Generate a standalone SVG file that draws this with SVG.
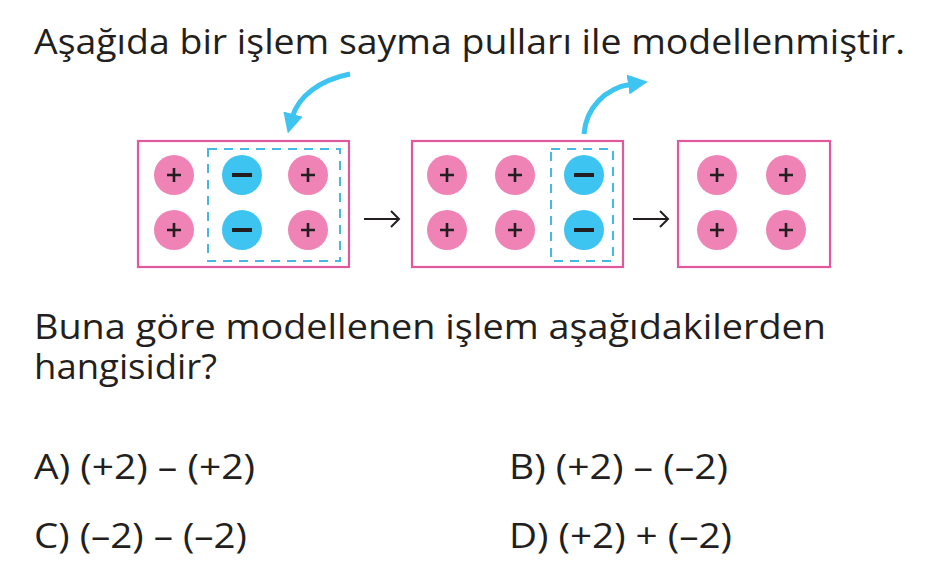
<svg xmlns="http://www.w3.org/2000/svg" width="951" height="575" viewBox="0 0 951 575">
<defs>
<style>
.t{font-family:"Open Sans","Noto Sans",sans-serif;font-size:35px;fill:#231f20}
.box{fill:#fff;stroke:#e2589c;stroke-width:2.2}
.dash{fill:none;stroke:#45b9e3;stroke-width:2;stroke-dasharray:9,7}
.p{fill:#f083b5}
.n{fill:#3ec4f0}
.ps{stroke:#231f20;stroke-width:2.6;fill:none}
.ms{stroke:#231f20;stroke-width:4;fill:none}
.blue{fill:none;stroke:#3ec4f0;stroke-width:5}
.blk{fill:none;stroke:#231f20;stroke-width:2}
</style>
<marker id="bh" viewBox="0 0 10 10" refX="2" refY="5" markerWidth="4" markerHeight="4" orient="auto" markerUnits="strokeWidth">
<path d="M0,0 L10,5 L0,10 Z" fill="#3ec4f0"/>
</marker>
<g id="plus"><circle r="20" class="p"/><path class="ps" d="M-7,0 H7 M0,-7 V7"/></g>
<g id="minus"><circle r="20" class="n"/><path class="ms" d="M-10,0 H10"/></g>
</defs>
<rect width="951" height="575" fill="#fff"/>
<text class="t" x="34" y="54" textLength="871" lengthAdjust="spacingAndGlyphs">Aşağıda bir işlem sayma pulları ile modellenmiştir.</text>
<g id="box1">
<rect class="box" x="138" y="141" width="211" height="126"/>
<rect class="dash" x="208" y="149" width="132" height="112"/>
<use href="#plus" x="174" y="175"/><use href="#plus" x="174" y="230"/>
<use href="#minus" x="242" y="175"/><use href="#minus" x="242" y="230"/>
<use href="#plus" x="308" y="175"/><use href="#plus" x="308" y="230"/>
</g>
<g id="box2">
<rect class="box" x="412" y="141" width="211" height="126"/>
<rect class="dash" x="551" y="149" width="62" height="112"/>
<use href="#plus" x="447" y="175"/><use href="#plus" x="447" y="230"/>
<use href="#plus" x="515" y="175"/><use href="#plus" x="515" y="230"/>
<use href="#minus" x="584" y="175"/><use href="#minus" x="584" y="230"/>
</g>
<g id="box3">
<rect class="box" x="678" y="141" width="152" height="126"/>
<use href="#plus" x="717" y="175"/><use href="#plus" x="717" y="230"/>
<use href="#plus" x="786" y="175"/><use href="#plus" x="786" y="230"/>
</g>
<g id="connectors">
<path class="blk" d="M364,219 H399 M391,211 L399,219 L391,227"/>
<path class="blk" d="M633,219 H668 M660,211 L668,219 L660,227"/>
<path class="blue" d="M350,74 C320,80 298,96 292,118" marker-end="url(#bh)"/>
<path class="blue" d="M584,134 C586,108 605,88 632,84" marker-end="url(#bh)"/>
</g>
<text class="t" x="34" y="339" textLength="792" lengthAdjust="spacingAndGlyphs">Buna göre modellenen işlem aşağıdakilerden</text>
<text class="t" x="34" y="379" textLength="183" lengthAdjust="spacingAndGlyphs">hangisidir?</text>
<text class="t" x="34" y="479" textLength="221" lengthAdjust="spacingAndGlyphs">A) (+2) – (+2)</text>
<text class="t" x="509" y="479" textLength="219" lengthAdjust="spacingAndGlyphs">B)  (+2) – (–2)</text>
<text class="t" x="34" y="548" textLength="213" lengthAdjust="spacingAndGlyphs">C) (–2) – (–2)</text>
<text class="t" x="509" y="548" textLength="223" lengthAdjust="spacingAndGlyphs">D) (+2) + (–2)</text>
</svg>
